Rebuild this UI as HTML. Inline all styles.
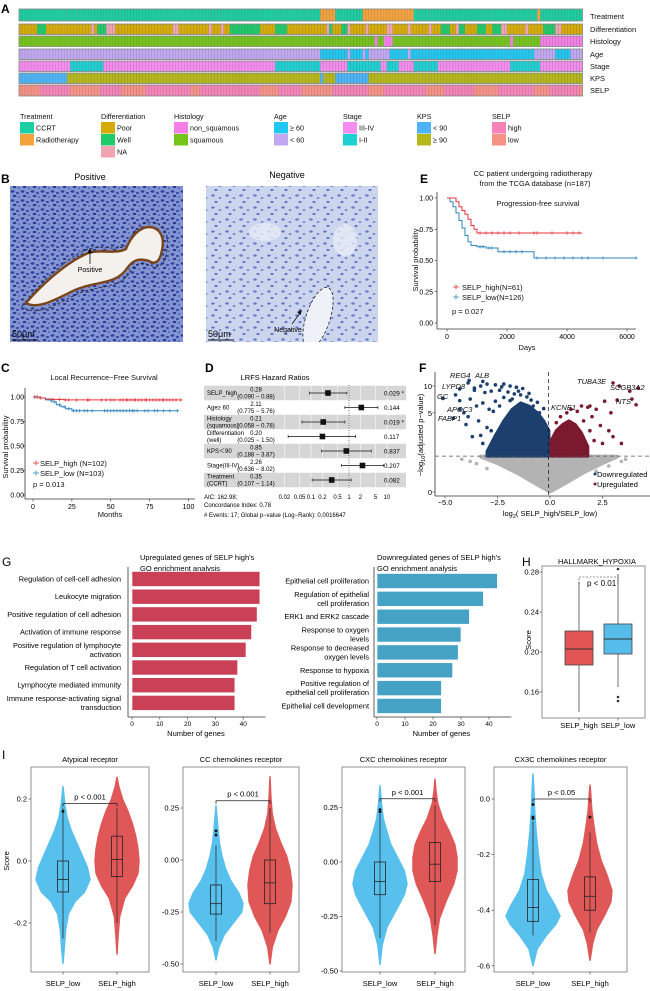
<!DOCTYPE html>
<html><head><meta charset="utf-8">
<style>
html,body{margin:0;padding:0;background:#fff;}
svg{display:block;font-family:"Liberation Sans",sans-serif;}
.nar{font-family:"Liberation Sans Narrow","Liberation Sans",sans-serif;}
</style></head>
<body>
<svg id="fig" width="650" height="991" viewBox="0 0 650 991" xmlns="http://www.w3.org/2000/svg">
<defs>
<pattern id="cellsPos" width="10" height="9" patternUnits="userSpaceOnUse">
<rect width="10" height="9" fill="#8495d2"/>
<ellipse cx="2.5" cy="2.5" rx="1.9" ry="1.2" fill="#2c3f9f"/>
<ellipse cx="7.5" cy="4" rx="1.5" ry="1.1" fill="#3448a8"/>
<ellipse cx="4.5" cy="7" rx="1.8" ry="1.1" fill="#27399a"/>
<ellipse cx="9" cy="8" rx="1" ry="0.8" fill="#3a4eb0"/>
</pattern>
<pattern id="cellsNeg" width="14" height="12" patternUnits="userSpaceOnUse">
<rect width="14" height="12" fill="#ccd5ee"/>
<ellipse cx="3" cy="3.5" rx="1.8" ry="1.1" fill="#6477c2"/>
<ellipse cx="10" cy="6" rx="1.4" ry="1" fill="#7888cc"/>
<ellipse cx="6" cy="10" rx="1.6" ry="1" fill="#5c70bf"/>
</pattern>
</defs>

<text x="1" y="13" font-size="12" font-weight="bold">A</text>
<text x="1" y="183" font-size="12" font-weight="bold">B</text>
<text x="420" y="183" font-size="12" font-weight="bold">E</text>
<text x="1" y="372" font-size="12" font-weight="bold">C</text>
<text x="205" y="372" font-size="12" font-weight="bold">D</text>
<text x="419" y="372" font-size="12" font-weight="bold">F</text>
<text x="2" y="566" font-size="12">G</text>
<text x="522" y="566" font-size="12">H</text>
<text x="2" y="759" font-size="12">I</text>

<g font-size="7.5" fill="#111">
<text x="590" y="19">Treatment</text>
<text x="590" y="32">Differentiation</text>
<text x="590" y="44">Histology</text>
<text x="590" y="57">Age</text>
<text x="590" y="69">Stage</text>
<text x="590" y="81">KPS</text>
<text x="590" y="93">SELP</text>
</g>
<g id="hmLegend" font-size="7.2" fill="#111"></g>

<g>
<text x="90" y="180" font-size="9" text-anchor="middle">Positive</text>
<rect x="10" y="186" width="173" height="156" fill="url(#cellsPos)"/>
<path d="M22,306 C35,290 60,262 85,250 C100,244 115,252 128,245 C132,232 140,222 150,222 C162,222 170,232 167,250 C165,265 158,270 150,265 C140,262 135,262 128,275 C115,290 95,285 75,295 C55,305 35,318 22,306 Z" fill="none" stroke="#222" stroke-width="0.8" stroke-dasharray="3,2"/>
<path d="M26,303 C38,289 62,265 86,254 C100,248 114,255 126,249 C131,236 140,227 149,227 C159,227 165,236 162,250 C160,262 155,265 149,261 C139,258 133,259 125,271 C113,285 95,281 75,290 C56,299 38,310 26,303 Z" fill="#f4f1ec" stroke="#7a4519" stroke-width="2.4"/>
<line x1="90" y1="264" x2="90" y2="251" stroke="#111" stroke-width="0.8"/>
<path d="M87.5,253 L90,248 L92.5,253 Z" fill="#111"/>
<text x="90" y="272" font-size="7" text-anchor="middle">Positive</text>
<text x="12" y="337" font-size="9">50μm</text>
<line x1="12" y1="340" x2="38" y2="340" stroke="#111" stroke-width="1"/>
</g>
<g>
<text x="287" y="178" font-size="9" text-anchor="middle">Negative</text>
<rect x="206" y="186" width="172" height="156" fill="url(#cellsNeg)"/>
<ellipse cx="265" cy="232" rx="16" ry="9" fill="#e7ebf6" opacity="0.8"/>
<ellipse cx="345" cy="240" rx="12" ry="16" fill="#e7ebf6" opacity="0.8"/>
<clipPath id="negClip"><rect x="206" y="186" width="172" height="156"/></clipPath>
<g clip-path="url(#negClip)">
<ellipse cx="318" cy="318" rx="12" ry="32" transform="rotate(18 318 318)" fill="#eef1f8" stroke="#222" stroke-width="0.8" stroke-dasharray="3,2"/>
</g>
<line x1="292" y1="324" x2="300" y2="313" stroke="#111" stroke-width="0.8"/>
<path d="M297,312 L302,310 L300.5,315 Z" fill="#111"/>
<text x="288" y="332" font-size="7" text-anchor="middle">Negative</text>
<text x="208" y="337" font-size="9">50μm</text>
<line x1="208" y1="340" x2="234" y2="340" stroke="#111" stroke-width="1"/>
</g>

<g font-size="7.5" fill="#111">
<text x="533" y="176" text-anchor="middle">CC patient undergoing radiotherapy</text>
<text x="535" y="186" text-anchor="middle">from the TCGA database (n=187)</text>
<text x="538" y="206" text-anchor="middle">Progression-free survival</text>
<text x="462" y="290">SELP_high(N=61)</text>
<text x="462" y="300">SELP_low(N=126)</text>
<text x="452" y="314">p = 0.027</text>
<text x="527" y="350" text-anchor="middle">Days</text>
<text transform="translate(418,260) rotate(-90)" text-anchor="middle">Survival probability</text>
</g>
<g id="kmE"></g>

<g font-size="7.5" fill="#111">
<text x="104" y="380" text-anchor="middle">Local Recurrence−Free Survival</text>
<text x="40" y="466">SELP_high (N=102)</text>
<text x="40" y="476">SELP_low (N=103)</text>
<text x="33" y="487">p = 0.013</text>
<text x="110" y="517" text-anchor="middle">Months</text>
<text transform="translate(8,447) rotate(-90)" text-anchor="middle">Survival probability</text>
</g>
<g id="kmC"></g>

<g id="forest"></g>
<g id="volcano"></g>
<g id="goUp"></g>
<g id="goDown"></g>
<g id="hypoxia"></g>
<g id="violins"></g>
<text transform="translate(9,861) rotate(-90)" font-size="7.5" text-anchor="middle">Score</text>
<g id="heatmap"></g>
</svg>

<script>
// ===== Panel A data =====
const treatmentRuns=[['CCRT',100],['Radiotherapy',5],['CCRT',9],['Radiotherapy',17],['CCRT',41],['Radiotherapy',1],['CCRT',14]];
const differentiationRuns=[['Poor',6],['Well',3],['Poor',15],['NA',1],['Poor',1],['Well',3],['NA',3],['Poor',19],['NA',2],['Poor',10],['NA',1],['Poor',3],['NA',1],['Poor',2],['Well',10],['Poor',5],['Well',4],['Poor',13],['NA',1],['Well',1],['Poor',3],['Well',2],['NA',1],['Poor',5],['NA',1],['Poor',6],['NA',2],['Poor',5],['NA',1],['Poor',6],['NA',1],['Poor',3],['Well',3],['Poor',2],['NA',1],['Well',2],['Poor',4],['Well',3],['Poor',2],['Well',3],['NA',2],['Poor',6],['NA',1],['Poor',5],['Well',4],['NA',2],['Poor',7]];
const histologyRuns=[['squamous',118],['non_squamous',1],['squamous',2],['non_squamous',3],['squamous',39],['non_squamous',1],['squamous',9],['non_squamous',14]];
const ageRuns=[['<60',100],['>=60',9],['<60',1],['>=60',4],['<60',1],['>=60',1],['<60',7],['>=60',6],['<60',1],['>=60',41],['<60',7],['>=60',5],['<60',4]];
const stageRuns=[['III-IV',17],['I-II',11],['III-IV',57],['I-II',15],['III-IV',9],['I-II',11],['III-IV',2],['I-II',4],['III-IV',5],['I-II',8],['III-IV',24],['I-II',10],['III-IV',14]];
const kpsRuns=[['<90',16],['>=90',84],['<90',1],['>=90',4],['<90',11],['>=90',71]];
const selpRuns=[['low',7],['high',10],['low',10],['high',7],['low',8],['high',15],['low',3],['high',20],['low',6],['high',8],['low',10],['high',12],['low',5],['high',14],['low',6],['high',10],['low',8],['high',12],['low',5],['high',10],['low',1]];

// ===== Panel E data =====
const pfsHighT=[0,100,300,400,500,600,700,800,900,1000,4500];
const pfsHighS=[1,1,0.97,0.93,0.90,0.87,0.83,0.78,0.75,0.72,0.72];
const pfsLowT=[0,100,200,300,400,500,600,700,800,1000,1300,1700,2900,6300];
const pfsLowS=[1,0.97,0.93,0.88,0.82,0.76,0.70,0.65,0.62,0.61,0.60,0.57,0.52,0.52];
const pfsHighCens=[1100,1300,1500,1700,1900,2100,2400,2900,3000,3500,4000,4200,4400];
const pfsLowCens=[1100,1200,1400,1500,1900,2100,2300,2500,3000,3300,3600,3900,4200,4500,4700,5200,6300];

// ===== Panel C data =====
const lrfsHighT=[0,4,8,12,20,95];
const lrfsHighS=[1,0.99,0.98,0.975,0.97,0.97];
const lrfsLowT=[0,5,8,12,15,18,21,25,93];
const lrfsLowS=[1,0.99,0.97,0.95,0.92,0.9,0.88,0.86,0.86];
const lrfsHighCens=[2,5,13,17,21,23,28,35,36,44,47,50,52,56,58,60,61,63,65,66,68,70,72,73,75,77,79,81,83,84,86,88,90,92,95];
const lrfsLowCens=[1,3,11,14,17,20,23,26,28,30,33,35,38,46,48,50,52,54,56,58,60,62,64,65,67,72,74,78,80,84,88,93];

// ===== Panel D data =====
const fLabels=[['SELP_high'],['Age≥ 60'],['Histology','(squamous)'],['Differentiation','(well)'],['KPS＜90'],['Stage(III-IV)'],['Treatment','(CCRT)']];
const fHR=[0.28,2.11,0.21,0.20,0.85,2.26,0.35];
const fLo=[0.090,0.775,0.058,0.025,0.188,0.636,0.107];
const fHi=[0.88,5.76,0.78,1.50,3.87,8.02,1.14];
const fLoTxt=['0.090','0.775','0.058','0.025','0.188','0.636','0.107'];
const fHiTxt=['0.88','5.76','0.78','1.50','3.87','8.02','1.14'];
const fP=['0.029 *','0.144','0.019 *','0.117','0.837','0.207','0.082'];
const fTicks=[0.02,0.05,0.1,0.2,0.5,1,2,5,10];
const fTickLbl=['0.02','0.05','0.1','0.2','0.5','1','2','5','10'];

// ===== Panel F data =====
const downEnvX=[-3.0,-2.6,-2.2,-1.8,-1.4,-1.0,-0.6,-0.3,-0.05];
const downEnvTop=[1.5,2.6,4.0,5.5,6.5,6.0,5.0,4.0,3.0];
const upEnvX=[0.05,0.3,0.6,0.9,1.2,1.5,1.8];
const upEnvTop=[2.2,3,3.6,4.0,3.6,2.8,1.8];
const nsEnvX=[-3.3,-2.5,-1.5,-0.7,-0.2,0,0.2,0.7,1.5,2.5,3.2];
const nsEnvBottom=[1.2,0.9,0.5,0.2,0.05,0,0.05,0.2,0.5,0.9,1.2];
const sigThreshold=1.25;
const downPtsX=[-3.3,-3.0,-2.6,-2.2,-1.9,-1.6,-1.3,-3.6,-3.1,-2.8,-2.4,-2.0,-1.7,-1.4,-4.5,-4.3,-3.8,-3.5,-3.2,-2.9,-2.6,-4.1,-3.9,-3.4,-3.0,-2.8,-3.7,-3.2,-4.0,-2.5,-2.2,-1.9,-1.1,-0.8,-0.5,-2.0,-1.2,-3.9,-3.6,-2.3,-1.5,-1.0,-2.7,-2.4,-3.3,-1.8,-0.9,-0.6,-0.3];
const downPtsY=[10,10.5,10.3,10.5,10,9.7,9.4,9,8.5,8.8,9,8.6,8.2,8,8,6.9,7.2,6,6.5,5.5,6.8,5,4.5,4,3.3,3,2.5,2,3.6,2.5,7.5,6.9,7.6,6,5,3,2.5,10.8,9.5,9.8,8.8,8.3,5.2,6.0,2.6,7.2,7.0,6.6,5.6];
const upPtsX=[1.5,1.8,2.2,2.6,3.2,2.9,2.0,1.6,2.4,2.8,3.4,1.3,1.0,0.8,2.1,1.9,1.4,3.0,2.5,1.2,3.3,3.8,4.1,0.5,0.3];
const upPtsY=[6,5.8,5.5,6.8,7,5.0,4.5,4,3.5,3,2.0,5.2,5.5,5,2.2,3,2.6,2.5,2,2.2,10,8.8,6.2,4.5,3.8];
const nsPtsX=[-3.8,-3.5,-3.0,2.8,3.4,3.6,-4.2,2.2];
const nsPtsY=[1.0,0.9,0.7,0.8,1.0,1.1,1.1,0.6];
const geneNames=['REG4','ALB','LYPD8','GC','APOC3','FABP1','TUBA3E','SCGB3A2','NTS','KCNE1'];
const geneX=[-3.85,-3.2,-4.3,-5.1,-4.3,-4.6,3.0,4.2,3.9,1.9];
const geneY=[11.5,11.2,9.3,7.3,5.5,4.3,10.8,9.5,7.2,6.0];
const vXTicks=[-5,-2.5,0,2.5];
const vXTickLbl=['−5.0','−2.5','0.0','2.5'];
const vYTicks=[0,5,10];

// ===== Panel G data =====
const goUpTerms=[['Regulation of cell-cell adhesion'],['Leukocyte migration'],['Positive regulation of cell adhesion'],['Activation of immune response'],['Positive regulation of lymphocyte','activation'],['Regulation of T cell activation'],['Lymphocyte mediated immunity'],['Immune response-activating signal','transduction']];
const goUpCounts=[46,46,45,43,41,38,37,37];
const goDownTerms=[['Epithelial cell proliferation'],['Regulation of epithelial','cell proliferation'],['ERK1 and ERK2 cascade'],['Response to oxygen','levels'],['Response to decreased','oxygen levels'],['Response to hypoxia'],['Positive regulation of','epithelial cell proliferation'],['Epithelial cell development']];
const goDownCounts=[43,38,33,30,29,27,23,23];
const goTicks=[0,10,20,30,40];

// ===== Panel H data =====
const hGroups=['SELP_high','SELP_low'];
const hQ1=[0.187,0.198];
const hMed=[0.203,0.213];
const hQ3=[0.221,0.228];
const hWLo=[0.140,0.165];
const hWHi=[0.270,0.278];
const hOutliers=[[],[0.283,0.155,0.151]];
const hTicks=[0.16,0.20,0.24,0.28];

// ===== Panel I data =====
const vioTitles=['Atypical receptor','CC chemokines receptor','CXC chemokines receptor','CX3C chemokines receptor'];
const vioPLabel=['p < 0.001','p < 0.001','p < 0.001','p < 0.05'];
const vioPLine=[0.185,0.285,0.29,0.0];
const vioTicks=[[-0.2,0,0.2],[-0.5,-0.25,0,0.25],[-0.5,-0.25,0,0.25],[-0.6,-0.4,-0.2,0]];
const vioTickLbl=[['-0.2','0.0','0.2'],['-0.50','-0.25','0.00','0.25'],['-0.50','-0.25','0.00','0.25'],['-0.6','-0.4','-0.2','0.0']];
const lowDensY=[[-0.33,-0.28,-0.22,-0.17,-0.13,-0.1,-0.06,-0.02,0.02,0.06,0.1,0.14,0.18,0.24],[-0.48,-0.42,-0.36,-0.3,-0.25,-0.21,-0.16,-0.1,-0.04,0.02,0.08,0.14,0.2,0.26],[-0.47,-0.38,-0.3,-0.22,-0.15,-0.1,-0.04,0.02,0.08,0.14,0.2,0.27,0.35],[-0.6,-0.54,-0.49,-0.45,-0.42,-0.38,-0.33,-0.27,-0.2,-0.12,-0.04,0.04,0.09]];
const lowDensW=[[0,0.05,0.1,0.2,0.45,0.8,1,0.9,0.7,0.5,0.3,0.15,0.07,0],[0,0.1,0.3,0.65,0.95,1,0.85,0.55,0.35,0.22,0.13,0.08,0.04,0],[0,0.08,0.25,0.6,0.9,1,0.9,0.65,0.4,0.25,0.12,0.05,0],[0,0.15,0.5,0.85,1,0.8,0.5,0.3,0.2,0.12,0.06,0.03,0]];
const highDensY=[[-0.3,-0.24,-0.18,-0.12,-0.08,-0.04,0,0.04,0.08,0.12,0.16,0.2,0.24,0.27],[-0.5,-0.42,-0.34,-0.27,-0.2,-0.12,-0.05,0.02,0.08,0.15,0.22,0.3,0.4],[-0.42,-0.34,-0.26,-0.18,-0.1,-0.04,0.02,0.08,0.14,0.2,0.27,0.33,0.38],[-0.58,-0.52,-0.47,-0.42,-0.37,-0.33,-0.28,-0.22,-0.16,-0.1,-0.04,0.02,0.05]];
const highDensW=[[0,0.05,0.12,0.35,0.7,0.95,1,0.95,0.85,0.7,0.5,0.25,0.08,0],[0,0.1,0.35,0.7,0.95,1,0.92,0.75,0.5,0.25,0.1,0.04,0],[0,0.08,0.2,0.5,0.85,1,1,0.9,0.65,0.35,0.12,0.04,0],[0,0.12,0.3,0.65,0.95,1,0.8,0.5,0.3,0.18,0.08,0.03,0]];
const lowBox=[[-0.25,-0.10,-0.06,0.00,0.17],[-0.39,-0.26,-0.21,-0.12,0.07],[-0.35,-0.15,-0.09,0.00,0.22],[-0.49,-0.44,-0.39,-0.29,-0.08]];
const highBox=[[-0.20,-0.05,0.005,0.08,0.17],[-0.35,-0.21,-0.11,0.00,0.25],[-0.29,-0.09,-0.01,0.09,0.26],[-0.48,-0.40,-0.35,-0.28,-0.12]];
const lowOut=[[0.16],[0.14,0.12],[0.23,0.24],[-0.02,-0.065,-0.07]];
const highOut=[[],[],[],[-0.065]];

// ===== helpers =====
const NS='http://www.w3.org/2000/svg';
const svg=document.getElementById('fig');
function mk(tag,attrs,parent){const e=document.createElementNS(NS,tag);for(const k in attrs)e.setAttribute(k,attrs[k]);(parent||svg).appendChild(e);return e;}
function txt(parent,x,y,s,attrs){const e=mk('text',Object.assign({x:x,y:y},attrs||{}),parent);e.textContent=s;return e;}

// ===== Panel A heatmap =====
const hmColors={'CCRT':'#1ccfa3','Radiotherapy':'#f4a23c','Poor':'#d6ab05','Well':'#1fca6a','NA':'#f0a4b2','non_squamous':'#f57fe6','squamous':'#74c41c','>=60':'#20c7f0','<60':'#c2a8f2','III-IV':'#f68bf0','I-II':'#1dd0d2','<90':'#4db4f7','>=90':'#b6b81a','high':'#f683b8','low':'#f69286'};
const hmRowData=[treatmentRuns,differentiationRuns,histologyRuns,ageRuns,stageRuns,kpsRuns,selpRuns];
const hmRowNames=['treatment','differentiation','histology','age','stage','kps','selp'];
const hmRowY=[9,24,36,49,61,73,85];
const hmRowH=[12,10.5,10.5,10.5,10.5,10.5,11];
const hmG=document.getElementById('heatmap');
const hmX0=19, hmW=563.5;
hmRowData.forEach((runs,ri)=>{
  const total=runs.reduce((a,r)=>a+r[1],0);
  const cw=hmW/total;
  const rg=mk('g',{},hmG);
  
  
  let i=0;
  runs.forEach(r=>{for(let k=0;k<r[1];k++){
    const c=mk('rect',{x:(hmX0+i*cw).toFixed(2),y:hmRowY[ri],width:cw.toFixed(2),height:hmRowH[ri],fill:hmColors[r[0]],stroke:'#555','stroke-width':0.25,'stroke-opacity':0.6},rg);
    
    
    i++;}});
  mk('rect',{x:hmX0,y:hmRowY[ri],width:hmW,height:hmRowH[ri],fill:'none',stroke:'#888','stroke-width':0.8},rg);
});
const legG=document.getElementById('hmLegend');
const legDefs=[['Treatment',20,[['CCRT','CCRT'],['Radiotherapy','Radiotherapy']]],['Differentiation',101,[['Poor','Poor'],['Well','Well'],['NA','NA']]],['Histology',174,[['non_squamous','non_squamous'],['squamous','squamous']]],['Age',274,[['>=60','≥ 60'],['<60','< 60']]],['Stage',343,[['III-IV','III-IV'],['I-II','I-II']]],['KPS',417,[['<90','< 90'],['>=90','≥ 90']]],['SELP',492,[['high','high'],['low','low']]]];
legDefs.forEach(d=>{
  const g=mk('g',{},legG);
  
  
  txt(g,d[1],119,d[0]);
  d[2].forEach((it,k)=>{
    const y=122+k*12;
    mk('rect',{x:d[1],y:y,width:14,height:11.5,fill:hmColors[it[0]]},g);
    txt(g,d[1]+16,y+8.5,it[1]);
  });
});

// ===== KM helpers =====
function kmPath(xs,ys,T,S){let d='M'+xs(T[0]).toFixed(1)+','+ys(S[0]).toFixed(1);for(let i=1;i<T.length;i++){d+=' H'+xs(T[i]).toFixed(1)+' V'+ys(S[i]).toFixed(1);}return d;}
function survAt(T,S,t){let s=S[0];for(let i=0;i<T.length;i++){if(T[i]<=t)s=S[i];}return s;}
function drawKM(g,xs,ys,T,S,cens,col,name){
  const p=mk('path',{d:kmPath(xs,ys,T,S),fill:'none',stroke:col,'stroke-width':1},g);
  
  
  cens.forEach(t=>{const x=xs(t),y=ys(survAt(T,S,t));
    const c=mk('path',{d:'M'+(x-1.6)+','+y+' H'+(x+1.6)+' M'+x+','+(y-1.6)+' V'+(y+1.6),stroke:col,'stroke-width':0.8},g);
    
    });
}
(function(){
  const g=document.getElementById('kmE');
  const xs=t=>447+t*(180/6000), ys=s=>323-125*s;
  mk('line',{x1:437,y1:192,x2:437,y2:329,stroke:'#333','stroke-width':0.8},g);
  mk('line',{x1:437,y1:329,x2:636,y2:329,stroke:'#333','stroke-width':0.8},g);
  [0,0.25,0.5,0.75,1].forEach(v=>{mk('line',{x1:434.5,y1:ys(v),x2:437,y2:ys(v),stroke:'#333','stroke-width':0.6},g);txt(g,433,ys(v)+2.5,v.toFixed(2),{'font-size':7,'text-anchor':'end'});});
  [0,2000,4000,6000].forEach(v=>{mk('line',{x1:xs(v),y1:329,x2:xs(v),y2:331.5,stroke:'#333','stroke-width':0.6},g);txt(g,xs(v),339,String(v),{'font-size':7,'text-anchor':'middle'});});
  drawKM(g,xs,ys,pfsLowT,pfsLowS,pfsLowCens,'#2f86c0','pfs-low');
  drawKM(g,xs,ys,pfsHighT,pfsHighS,pfsHighCens,'#e8313b','pfs-high');
  mk('path',{d:'M453,287 H459 M456,284.5 V289.5',stroke:'#e8313b','stroke-width':0.8},g);
  mk('path',{d:'M453,297 H459 M456,294.5 V299.5',stroke:'#2f86c0','stroke-width':0.8},g);
})();
(function(){
  const g=document.getElementById('kmC');
  const xs=m=>33+m*1.555, ys=s=>495-98*s;
  mk('line',{x1:25,y1:388,x2:25,y2:499,stroke:'#333','stroke-width':0.8},g);
  mk('line',{x1:25,y1:499,x2:195,y2:499,stroke:'#333','stroke-width':0.8},g);
  [0,0.25,0.5,0.75,1].forEach(v=>{mk('line',{x1:22.5,y1:ys(v),x2:25,y2:ys(v),stroke:'#333','stroke-width':0.6},g);txt(g,24,ys(v)+2.5,v.toFixed(2),{'font-size':7,'text-anchor':'end'});});
  [0,25,50,75,100].forEach(v=>{mk('line',{x1:xs(v),y1:499,x2:xs(v),y2:501.5,stroke:'#333','stroke-width':0.6},g);txt(g,xs(v),509,String(v),{'font-size':7,'text-anchor':'middle'});});
  drawKM(g,xs,ys,lrfsLowT,lrfsLowS,lrfsLowCens,'#2f86c0','lrfs-low');
  drawKM(g,xs,ys,lrfsHighT,lrfsHighS,lrfsHighCens,'#e8313b','lrfs-high');
  mk('path',{d:'M33,463 H39 M36,460.5 V465.5',stroke:'#e8313b','stroke-width':0.8},g);
  mk('path',{d:'M33,473 H39 M36,470.5 V475.5',stroke:'#2f86c0','stroke-width':0.8},g);
})();

// ===== Panel D forest =====
(function(){
  const g=document.getElementById('forest');
  const xF=hr=>349+38*Math.log10(hr);
  const rowY=i=>393+i*14.5;
  txt(g,275,380,'LRFS Hazard Ratios',{'font-size':7.5,'text-anchor':'middle'});
  fHR.forEach((v,i)=>{if(i%2===0){const r=mk('rect',{x:204,y:rowY(i)-7.25,width:202,height:14.5,fill:'#d6d6d6'},g);}});
  fTicks.forEach(t=>{mk('line',{x1:xF(t),y1:385,x2:xF(t),y2:488,stroke:'#fff','stroke-width':0.6,'stroke-opacity':0.9},g);});
  mk('line',{x1:xF(1),y1:385,x2:xF(1),y2:488,stroke:'#333','stroke-width':0.7,'stroke-dasharray':'1,1.5'},g);
  const fs={'font-size':6,'class':'nar'};
  fHR.forEach((v,i)=>{
    const y=rowY(i);
    const lab=fLabels[i];
    if(lab.length===1)txt(g,207,y+2.2,lab[0],fs);
    else{txt(g,207,y-1.3,lab[0],fs);txt(g,207,y+5.7,lab[1],fs);}
    txt(g,256,y-1.3,v.toFixed(2),Object.assign({'text-anchor':'middle'},fs));
    txt(g,256,y+5.7,'('+fLoTxt[i]+' − '+fHiTxt[i]+')',Object.assign({'text-anchor':'middle'},fs));
    const ci=mk('line',{x1:xF(fLo[i]),y1:y,x2:xF(fHi[i]),y2:y,stroke:'#111','stroke-width':0.8},g);
    
    
    mk('line',{x1:xF(fLo[i]),y1:y-1.5,x2:xF(fLo[i]),y2:y+1.5,stroke:'#111','stroke-width':0.6},g);
    mk('line',{x1:xF(fHi[i]),y1:y-1.5,x2:xF(fHi[i]),y2:y+1.5,stroke:'#111','stroke-width':0.6},g);
    const pt=mk('rect',{x:xF(v)-2.8,y:y-2.8,width:5.6,height:5.6,fill:'#111'},g);
    
    
    txt(g,384,y+2.5,fP[i],{'font-size':6.3});
  });
  fTicks.forEach((t,k)=>{txt(g,xF(t),499,fTickLbl[k],{'font-size':6,'text-anchor':'middle'});});
  txt(g,204,499,'AIC: 162.98;',{'font-size':6});
  txt(g,204,507,'Concordance Index: 0.78',{'font-size':6});
  txt(g,204,517,'# Events: 17; Global p−value (Log−Rank): 0.0016647',{'font-size':6});
})();

// ===== Panel F volcano =====
(function(){
  const g=document.getElementById('volcano');
  const xV=l=>550+21*l, yV=p=>492-44.2*Math.log(1+p);
  function env(X,Top,Bot){let d='M'+xV(X[0])+','+yV(Top[0]);for(let i=1;i<X.length;i++)d+=' L'+xV(X[i])+','+yV(Top[i]);for(let i=X.length-1;i>=0;i--)d+=' L'+xV(X[i])+','+yV(Bot[i]);return d+' Z';}
  const thr=downEnvX.map(()=>sigThreshold);
  const nsTop=nsEnvX.map(()=>sigThreshold);
  const ns=mk('path',{d:env(nsEnvX,nsTop,nsEnvBottom),fill:'#b3b3b3',stroke:'#b3b3b3','stroke-width':3,'stroke-linejoin':'round'},g);
  
  
  const dn=mk('path',{d:env(downEnvX,downEnvTop,thr),fill:'#1c3f6e',stroke:'#1c3f6e','stroke-width':3,'stroke-linejoin':'round'},g);
  
  
  const upThr=upEnvX.map(()=>sigThreshold);
  const up=mk('path',{d:env(upEnvX,upEnvTop,upThr),fill:'#7b1a2e',stroke:'#7b1a2e','stroke-width':3,'stroke-linejoin':'round'},g);
  
  
  nsPtsX.forEach((x,i)=>{const c=mk('circle',{cx:xV(x),cy:yV(nsPtsY[i]),r:1.8,fill:'#b3b3b3'},g);});
  downPtsX.forEach((x,i)=>{const c=mk('circle',{cx:xV(x),cy:yV(downPtsY[i]),r:1.8,fill:'#1c3f6e'},g);});
  upPtsX.forEach((x,i)=>{const c=mk('circle',{cx:xV(x),cy:yV(upPtsY[i]),r:1.8,fill:'#7b1a2e'},g);});
  const labelPos=[[450,378],[475,378],[442,389],[437,399],[447,412],[438,421],[577,384],[610,390],[616,404],[551,410]];
  geneNames.forEach((n,i)=>{const col=geneX[i]<0?'#1c3f6e':'#7b1a2e';
    const c=mk('circle',{cx:xV(geneX[i]),cy:yV(geneY[i]),r:1.8,fill:col},g);
    
    
    txt(g,labelPos[i][0],labelPos[i][1],n,{'font-size':7.5,'font-style':'italic',fill:'#111'});});
  mk('line',{x1:435,y1:yV(sigThreshold),x2:650,y2:yV(sigThreshold),stroke:'#555','stroke-width':0.8,'stroke-dasharray':'4,3'},g);
  mk('line',{x1:xV(0)-1.5,y1:372,x2:xV(0)-1.5,y2:496,stroke:'#111','stroke-width':0.7,'stroke-dasharray':'4,3'},g);
  mk('line',{x1:435,y1:372,x2:435,y2:496,stroke:'#333','stroke-width':0.8},g);
  mk('line',{x1:435,y1:496,x2:650,y2:496,stroke:'#333','stroke-width':0.8},g);
  vYTicks.forEach(v=>{mk('line',{x1:432.5,y1:yV(v),x2:435,y2:yV(v),stroke:'#333','stroke-width':0.6},g);txt(g,432,yV(v)+3,String(v),{'font-size':7.5,'text-anchor':'end'});});
  vXTicks.forEach((v,k)=>{mk('line',{x1:xV(v),y1:496,x2:xV(v),y2:498.5,stroke:'#333','stroke-width':0.6},g);txt(g,xV(v),505,vXTickLbl[k],{'font-size':7.5,'text-anchor':'middle'});});
  const xl=txt(g,550,516,'',{'font-size':7.5,'text-anchor':'middle'});
  xl.innerHTML='log<tspan font-size="5.5" dy="2">2</tspan><tspan dy="-2">( SELP_high/SELP_low)</tspan>';
  const yl=txt(g,0,0,'',{'font-size':7.5,'text-anchor':'middle',transform:'translate(423,435) rotate(-90)'});
  yl.innerHTML='−log<tspan font-size="5.5" dy="2">10</tspan><tspan dy="-2">(adjusted p−value)</tspan>';
  mk('circle',{cx:595,cy:474,r:1.5,fill:'#1c3f6e'},g);
  txt(g,597,477,'Downregulated',{'font-size':7.5});
  mk('circle',{cx:595,cy:484,r:1.5,fill:'#7b1a2e'},g);
  txt(g,597,487,'Upregulated',{'font-size':7.5});
})();

// ===== Panel G bars =====
function drawGO(gid,terms,counts,x0,k,labelRight,rowY0,rowStep,col,axisX,title,titleX,name){
  const g=document.getElementById(gid);
  txt(g,titleX,560,title[0],{'font-size':7.5,'class':'nar'});
  txt(g,titleX,571,title[1],{'font-size':7.5,'class':'nar'});
  counts.forEach((c,i)=>{
    const y=rowY0+i*rowStep;
    const b=mk('rect',{x:x0,y:y-7.5,width:k*c,height:15,fill:col,stroke:'#fff','stroke-width':0.6},g);
    
    
    const t=terms[i];
    if(t.length===1)txt(g,labelRight,y+2.5,t[0],{'font-size':7.4,'text-anchor':'end','class':'nar'});
    else{txt(g,labelRight,y-2,t[0],{'font-size':7.4,'text-anchor':'end','class':'nar'});txt(g,labelRight,y+7,t[1],{'font-size':7.4,'text-anchor':'end','class':'nar'});}
  });
  mk('line',{x1:axisX,y1:567,x2:axisX,y2:717,stroke:'#333','stroke-width':0.8},g);
  mk('line',{x1:axisX,y1:717,x2:x0+k*48,y2:717,stroke:'#333','stroke-width':0.8},g);
  goTicks.forEach(t=>{mk('line',{x1:x0+k*t,y1:717,x2:x0+k*t,y2:719.5,stroke:'#333','stroke-width':0.6},g);txt(g,x0+k*t,726,String(t),{'font-size':6.5,'text-anchor':'middle'});});
  txt(g,x0+k*23,736,'Number of genes',{'font-size':7.5,'text-anchor':'middle','class':'nar'});
}
drawGO('goUp',goUpTerms,goUpCounts,132,2.78,121,579,17.7,'#c94057',128,["Upregulated genes of SELP high's",'GO enrichment analysis'],140,'go-up');
drawGO('goDown',goDownTerms,goDownCounts,377,2.8,369,581,17.85,'#46a2c4',374,["Downregulated genes of SELP high's",'GO enrichment analysis'],377,'go-down');

// ===== Panel H box =====
(function(){
  const g=document.getElementById('hypoxia');
  const yH=v=>652-(v-0.2)*1000;
  const cx=[579,618], cols=['#e15554','#56bdea'];
  txt(g,597,564,'HALLMARK_HYPOXIA',{'font-size':7.5,'text-anchor':'middle'});
  mk('rect',{x:542,y:566,width:103,height:152,fill:'none',stroke:'#777','stroke-width':0.8},g);
  hTicks.forEach(t=>{mk('line',{x1:539.5,y1:yH(t),x2:542,y2:yH(t),stroke:'#333','stroke-width':0.6},g);txt(g,539,yH(t)+2.5,t.toFixed(2),{'font-size':7.5,'text-anchor':'end'});});
  txt(g,0,0,'Score',{'font-size':7.5,'text-anchor':'middle',transform:'translate(531,640) rotate(-90)'});
  hGroups.forEach((gn,i)=>{
    const x=cx[i];
    mk('line',{x1:x,y1:yH(hWLo[i]),x2:x,y2:yH(hWHi[i]),stroke:'#333','stroke-width':0.7},g);
    const b=mk('rect',{x:x-14,y:yH(hQ3[i]),width:28,height:yH(hQ1[i])-yH(hQ3[i]),fill:cols[i],stroke:'#444','stroke-width':0.8},g);
    
    
    mk('line',{x1:x-14,y1:yH(hMed[i]),x2:x+14,y2:yH(hMed[i]),stroke:'#333','stroke-width':1},g);
    hOutliers[i].forEach(o=>{mk('circle',{cx:x,cy:yH(o),r:1.3,fill:'#333'},g);});
    mk('line',{x1:x,y1:718,x2:x,y2:720.5,stroke:'#333','stroke-width':0.6},g);
    txt(g,x,728,gn,{'font-size':7.5,'text-anchor':'middle'});
  });
  mk('path',{d:'M579,'+(yH(0.268))+' V577 H618 V'+yH(0.268),fill:'none',stroke:'#333','stroke-width':0.6,'stroke-dasharray':'2,1.5'},g);
  txt(g,587,586,'p < 0.01',{'font-size':8});
})();

// ===== Panel I violins =====
(function(){
  const g=document.getElementById('violins');
  const boxX=[[31,149],[183,299],[342,465],[494,627]];
  const lowX=[63,216,380,533], highX=[117,270,435,590];
  const y0=[861,860,862,799], kk=[310,208,218,278];
  const blueC='#58c0ec', redC='#e05758';
  for(let p=0;p<4;p++){
    const pg=mk('g',{},g);
    
    
    const ys=v=>y0[p]-kk[p]*v;
    txt(pg,(boxX[p][0]+boxX[p][1])/2,762,vioTitles[p],{'font-size':7.5,'text-anchor':'middle'});
    function violin(cx,Y,W,hw,col,nm){
      let d='M'+cx+','+ys(Y[0]);
      for(let i=0;i<Y.length;i++)d+=' L'+(cx+W[i]*hw).toFixed(1)+','+ys(Y[i]).toFixed(1);
      for(let i=Y.length-1;i>=0;i--)d+=' L'+(cx-W[i]*hw).toFixed(1)+','+ys(Y[i]).toFixed(1);
      const v=mk('path',{d:d+' Z',fill:col,stroke:col,'stroke-width':1.5,'stroke-linejoin':'round'},pg);
      
      
    }
    function box(cx,B,outs,nm){
      mk('line',{x1:cx,y1:ys(B[0]),x2:cx,y2:ys(B[4]),stroke:'#222','stroke-width':0.7},pg);
      const r=mk('rect',{x:cx-5.5,y:ys(B[3]),width:11,height:ys(B[1])-ys(B[3]),fill:'none',stroke:'#222','stroke-width':0.8},pg);
      
      
      mk('line',{x1:cx-5.5,y1:ys(B[2]),x2:cx+5.5,y2:ys(B[2]),stroke:'#222','stroke-width':0.8},pg);
      outs.forEach(o=>{mk('circle',{cx:cx,cy:ys(o),r:1.4,fill:'#111'},pg);});
    }
    violin(lowX[p],lowDensY[p],lowDensW[p],27,blueC,'violin-low');
    violin(highX[p],highDensY[p],highDensW[p],22,redC,'violin-high');
    box(lowX[p],lowBox[p],lowOut[p],'box-low');
    box(highX[p],highBox[p],highOut[p],'box-high');
    mk('rect',{x:boxX[p][0],y:767,width:boxX[p][1]-boxX[p][0],height:205,fill:'none',stroke:'#777','stroke-width':0.8},pg);
    vioTicks[p].forEach((t,k)=>{mk('line',{x1:boxX[p][0]-2.5,y1:ys(t),x2:boxX[p][0],y2:ys(t),stroke:'#333','stroke-width':0.6},pg);txt(pg,boxX[p][0]-4,ys(t)+2.5,vioTickLbl[p][k],{'font-size':7.5,'text-anchor':'end'});});
    const ly=ys(vioPLine[p]);
    mk('path',{d:'M'+lowX[p]+','+(ly+3)+' V'+ly+' H'+highX[p]+' V'+(ly+3),fill:'none',stroke:'#222','stroke-width':0.8},pg);
    txt(pg,(lowX[p]+highX[p])/2,ly-4,vioPLabel[p],{'font-size':7.5,'text-anchor':'middle'});
    [lowX[p],highX[p]].forEach((x,k)=>{mk('line',{x1:x,y1:972,x2:x,y2:974.5,stroke:'#333','stroke-width':0.6},pg);txt(pg,x,986,k===0?'SELP_low':'SELP_high',{'font-size':7.5,'text-anchor':'middle'});});
  }
})();
</script>
</body></html>
